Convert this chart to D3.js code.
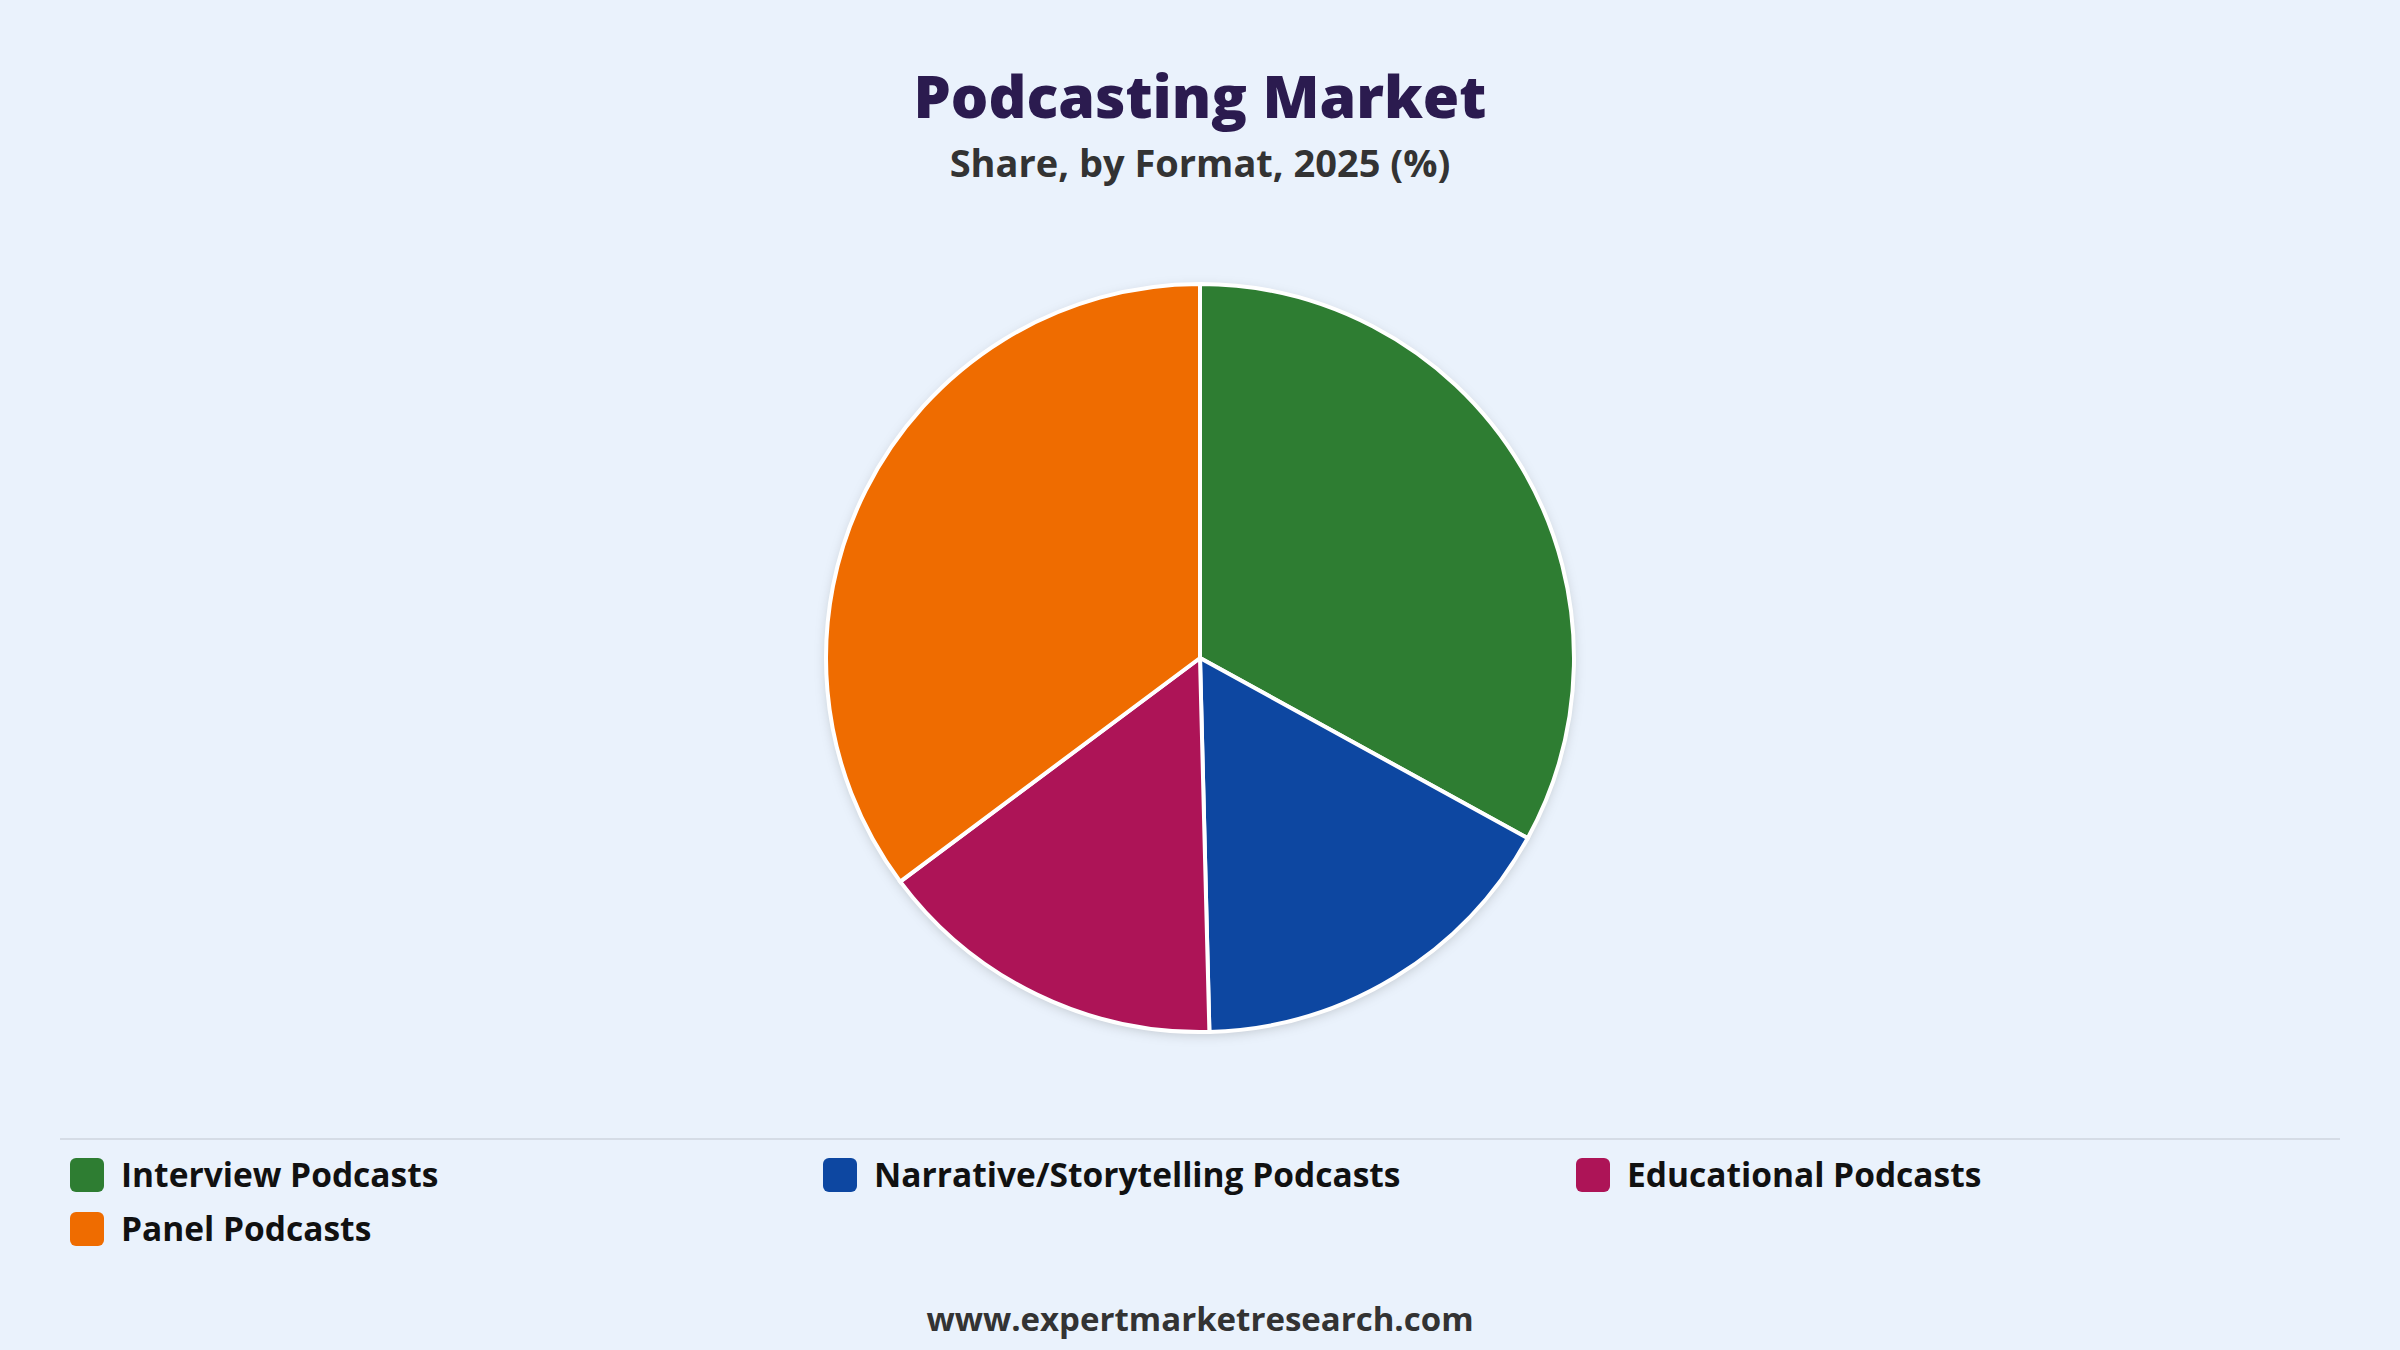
<!DOCTYPE html>
<html><head><meta charset="utf-8">
<script src="https://cdn.jsdelivr.net/npm/d3@7"></script>
<style>html,body{margin:0;padding:0;background:#EAF2FC;}</style>
</head><body>
<svg id="c" width="2400" height="1350"></svg>
<script>
const categories = ["Interview Podcasts","Narrative/Storytelling Podcasts","Educational Podcasts","Panel Podcasts"];
const values = [33.0, 16.6, 15.2, 35.2];
const colors = ["#2E7D32","#0D47A1","#AD1457","#EF6C00"];
const titleText = "Podcasting Market";
const subtitleText = "Share, by Format, 2025 (%)";
const footerText = "www.expertmarketresearch.com";

const svg = d3.select("#c");
const font = "'Open Sans', 'Noto Sans', sans-serif";
svg.append("rect").attr("width",2400).attr("height",1350).attr("fill","#EAF2FC");
const defs = svg.append("defs");
const f = defs.append("filter").attr("id","sh").attr("x","-20%").attr("y","-20%").attr("width","140%").attr("height","140%");
f.append("feDropShadow").attr("dx",0).attr("dy",3).attr("stdDeviation",6).attr("flood-color","#000").attr("flood-opacity",0.18);

svg.append("text").attr("x",1200).attr("y",118).attr("text-anchor","middle")
  .attr("font-family",font).attr("font-weight",800).attr("font-size",59).attr("fill","#2B1B4F").text(titleText);
svg.append("text").attr("x",1200).attr("y",177).attr("text-anchor","middle")
  .attr("font-family",font).attr("font-weight",700).attr("font-size",38).attr("fill","#333").text(subtitleText);

const pie = d3.pie().sort(null).value(d=>d)(values);
const arc = d3.arc().innerRadius(0).outerRadius(374);
const g = svg.append("g").attr("transform","translate(1200,658)");
g.append("circle").attr("r",374).attr("fill","#fff").attr("filter","url(#sh)");
g.selectAll("path").data(pie).join("path").attr("d",arc)
  .attr("fill",(d,i)=>colors[i]).attr("stroke","#fff").attr("stroke-width",4);

svg.append("line").attr("x1",60).attr("x2",2340).attr("y1",1139).attr("y2",1139).attr("stroke","#D5DCE6").attr("stroke-width",2);
const pos = [[70,1175],[823,1175],[1576,1175],[70,1229]];
categories.forEach((c,i)=>{
  const [x,y]=pos[i];
  svg.append("rect").attr("x",x).attr("y",y-17).attr("width",34).attr("height",34).attr("rx",6).attr("fill",colors[i]);
  svg.append("text").attr("x",x+51).attr("y",y+12).attr("font-family",font).attr("font-weight",700)
    .attr("font-size",33.5).attr("fill","#111").text(c);
});
svg.append("text").attr("x",1200).attr("y",1331).attr("text-anchor","middle")
  .attr("font-family",font).attr("font-weight",700).attr("font-size",33).attr("fill","#333").text(footerText);
</script>
</body></html>
